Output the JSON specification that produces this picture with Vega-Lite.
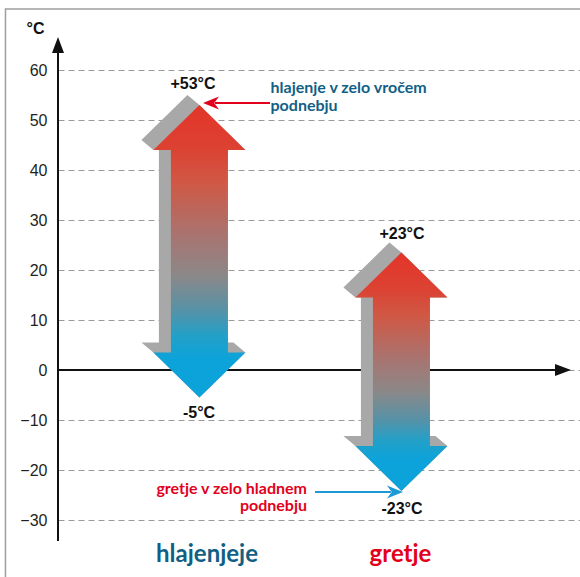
{
  "$schema": "https://vega.github.io/schema/vega-lite/v6.json",
  "width": 522,
  "height": 577,
  "autosize": "none",
  "padding": {"left": 58, "top": 0, "right": 0, "bottom": 0},
  "background": "white",
  "config": {"view": {"stroke": null}},
  "datasets": {
    "frame": [{"x": 0.04, "x2": 3.0, "y": 72.2, "y2": -45}],
    "axislines": [
      {"x": 0.3, "x2": 0.3, "y": -34.2, "y2": 64},
      {"x": 0.3, "x2": 2.79, "y": 0, "y2": 0}
    ],
    "axisheads": [
      {"x": 0.3, "y": 65, "dir": "up"},
      {"x": 2.8, "y": 0, "dir": "right"}
    ],
    "shadows": [
      {"a": "h", "x": 1, "x2": 1, "y": -5.5},
      {"a": "h", "x": 0.7723, "x2": 1.2277, "y": 3.5},
      {"a": "h", "x": 0.7129, "x2": 1.1683, "y": 5.5},
      {"a": "h", "x": 0.7995, "x2": 1.1411, "y": 5.52},
      {"a": "h", "x": 0.7995, "x2": 1.1411, "y": 43.98},
      {"a": "h", "x": 0.7723, "x2": 1.2277, "y": 44},
      {"a": "h", "x": 0.7129, "x2": 1.1772, "y": 46},
      {"a": "h", "x": 0.8901, "x2": 1.0, "y": 53},
      {"a": "h", "x": 0.9406, "x2": 0.9406, "y": 55},
      {"a": "g", "x": 2, "x2": 2, "y": -24.2},
      {"a": "g", "x": 1.7723, "x2": 2.2277, "y": -15.2},
      {"a": "g", "x": 1.7129, "x2": 2.1683, "y": -13.2},
      {"a": "g", "x": 1.7995, "x2": 2.1411, "y": -13.18},
      {"a": "g", "x": 1.7995, "x2": 2.1411, "y": 14.48},
      {"a": "g", "x": 1.7723, "x2": 2.2277, "y": 14.5},
      {"a": "g", "x": 1.7129, "x2": 2.1772, "y": 16.5},
      {"a": "g", "x": 1.8901, "x2": 2.0, "y": 23.5},
      {"a": "g", "x": 1.9406, "x2": 1.9406, "y": 25.5}
    ],
    "arrows": [
      {"a": "h", "x": 1, "x2": 1, "y": -5.5},
      {"a": "h", "x": 0.7723, "x2": 1.2277, "y": 3.5},
      {"a": "h", "x": 0.8589, "x2": 1.1411, "y": 3.52},
      {"a": "h", "x": 0.8589, "x2": 1.1411, "y": 43.98},
      {"a": "h", "x": 0.7723, "x2": 1.2277, "y": 44},
      {"a": "h", "x": 1, "x2": 1, "y": 53},
      {"a": "g", "x": 2, "x2": 2, "y": -24.2},
      {"a": "g", "x": 1.7723, "x2": 2.2277, "y": -15.2},
      {"a": "g", "x": 1.8589, "x2": 2.1411, "y": -15.18},
      {"a": "g", "x": 1.8589, "x2": 2.1411, "y": 14.48},
      {"a": "g", "x": 1.7723, "x2": 2.2277, "y": 14.5},
      {"a": "g", "x": 2, "x2": 2, "y": 23.5}
    ],
    "values": [
      {"x": 0.968, "y": 57.2, "t": "+53°C"},
      {"x": 0.998, "y": -8.6, "t": "-5°C"},
      {"x": 2.003, "y": 27.3, "t": "+23°C"},
      {"x": 2.003, "y": -27.8, "t": "-23°C"}
    ],
    "redline": [{"x": 1.0772, "x2": 1.3495, "y": 53.4}],
    "redhead": [{"x": 1.0574, "y": 53.4}],
    "blueline": [{"x": 1.5723, "x2": 1.948, "y": -24.4}],
    "bluehead": [{"x": 1.968, "y": -24.4}],
    "note1": [{"x": 1.352, "y": 55.34, "t": "hlajenje v zelo vročem\npodnebju"}],
    "note2": [{"x": 1.5327, "y": -24.8, "t": "gretje v zelo hladnem\npodnebju"}],
    "cat1": [{"x": 1.0376, "y": -38.34, "t": "hlajenjeje"}],
    "cat2": [{"x": 1.9955, "y": -38.34, "t": "gretje"}]
  },
  "encoding": {
    "x": {"field": "x", "type": "quantitative", "scale": {"domain": [0.3, 2.884], "nice": false, "zero": false}, "axis": null},
    "y": {"field": "y", "type": "quantitative", "scale": {"domain": [-41.4, 74], "nice": false, "zero": false},
      "axis": {"orient": "left", "values": [-30, -20, -10, 0, 10, 20, 30, 40, 50, 60], "grid": true, "gridColor": "#9a9a9a", "gridDash": [6, 4], "gridWidth": 1, "domain": false, "ticks": false, "tickSize": 0, "labelPadding": 11, "labelFont": "Liberation Sans", "labelFontSize": 16, "labelColor": "#231f20", "title": "°C", "titleAngle": 0, "titleX": -23, "titleY": 28, "titleAlign": "center", "titleBaseline": "middle", "titleFont": "Liberation Sans", "titleFontSize": 16, "titleFontWeight": "bold", "titleColor": "#111111"}}
  },
  "layer": [
    {
      "data": {"name": "frame"},
      "mark": {"type": "rect", "fill": null, "stroke": "#9e9e9e", "strokeWidth": 1.5},
      "encoding": {"x2": {"field": "x2"}, "y2": {"field": "y2"}}
    },
    {
      "data": {"name": "axislines"},
      "mark": {"type": "rule", "color": "#111111", "strokeWidth": 2},
      "encoding": {"x2": {"field": "x2"}, "y2": {"field": "y2"}}
    },
    {
      "data": {"name": "axisheads"},
      "mark": {"type": "point", "filled": true, "color": "#111111", "size": 256, "opacity": 1},
      "encoding": {
        "shape": {"field": "dir", "type": "nominal", "scale": {"domain": ["up", "right"], "range": ["M0,-1L0.75,1L-0.75,1Z", "M1,0L-1,-0.75L-1,0.75Z"]}, "legend": null}
      }
    },
    {
      "data": {"name": "shadows"},
      "mark": {"type": "area", "orient": "horizontal", "color": "#a8a8a8", "opacity": 1},
      "encoding": {"detail": {"field": "a"}, "x2": {"field": "x2"}}
    },
    {
      "data": {"name": "arrows"},
      "mark": {"type": "area", "orient": "horizontal", "opacity": 1,
        "color": {"gradient": "linear", "x1": 0, "y1": 0, "x2": 0, "y2": 1,
          "stops": [
            {"offset": 0, "color": "#e3352a"},
            {"offset": 0.15, "color": "#dc4232"},
            {"offset": 0.27, "color": "#cf5946"},
            {"offset": 0.46, "color": "#a57673"},
            {"offset": 0.58, "color": "#8c8888"},
            {"offset": 0.7, "color": "#5792a6"},
            {"offset": 0.79, "color": "#22a0c8"},
            {"offset": 0.87, "color": "#0ca3da"},
            {"offset": 1, "color": "#0ca3da"}
          ]}},
      "encoding": {"detail": {"field": "a"}, "x2": {"field": "x2"}}
    },
    {
      "data": {"name": "values"},
      "mark": {"type": "text", "font": "Liberation Sans", "fontSize": 16, "fontWeight": "bold", "color": "#111111", "align": "center", "baseline": "middle"},
      "encoding": {"text": {"field": "t"}}
    },
    {
      "data": {"name": "redline"},
      "mark": {"type": "rule", "color": "#e3001b", "strokeWidth": 2},
      "encoding": {"x2": {"field": "x2"}}
    },
    {
      "data": {"name": "redhead"},
      "mark": {"type": "point", "filled": true, "color": "#e3001b", "size": 256, "opacity": 1, "shape": "M-1,0L1,-0.8L0.4,0L1,0.8Z"},
      "encoding": {}
    },
    {
      "data": {"name": "blueline"},
      "mark": {"type": "rule", "color": "#1b9ad6", "strokeWidth": 2},
      "encoding": {"x2": {"field": "x2"}}
    },
    {
      "data": {"name": "bluehead"},
      "mark": {"type": "point", "filled": true, "color": "#1b9ad6", "size": 256, "opacity": 1, "shape": "M1,0L-1,-0.8L-0.4,0L-1,0.8Z"},
      "encoding": {}
    },
    {
      "data": {"name": "note1"},
      "mark": {"type": "text", "font": "Lato", "fontSize": 16, "fontWeight": "bold", "color": "#125f86", "align": "left", "baseline": "alphabetic", "lineBreak": "\n", "lineHeight": 17.4},
      "encoding": {"text": {"field": "t"}}
    },
    {
      "data": {"name": "note2"},
      "mark": {"type": "text", "font": "Lato", "fontSize": 16, "fontWeight": "bold", "color": "#e3001b", "align": "right", "baseline": "alphabetic", "lineBreak": "\n", "lineHeight": 17.4},
      "encoding": {"text": {"field": "t"}}
    },
    {
      "data": {"name": "cat1"},
      "mark": {"type": "text", "font": "Lato", "fontSize": 24, "fontWeight": "bold", "color": "#125f86", "align": "center", "baseline": "alphabetic"},
      "encoding": {"text": {"field": "t"}}
    },
    {
      "data": {"name": "cat2"},
      "mark": {"type": "text", "font": "Lato", "fontSize": 24, "fontWeight": "bold", "color": "#e3001b", "align": "center", "baseline": "alphabetic"},
      "encoding": {"text": {"field": "t"}}
    }
  ]
}
